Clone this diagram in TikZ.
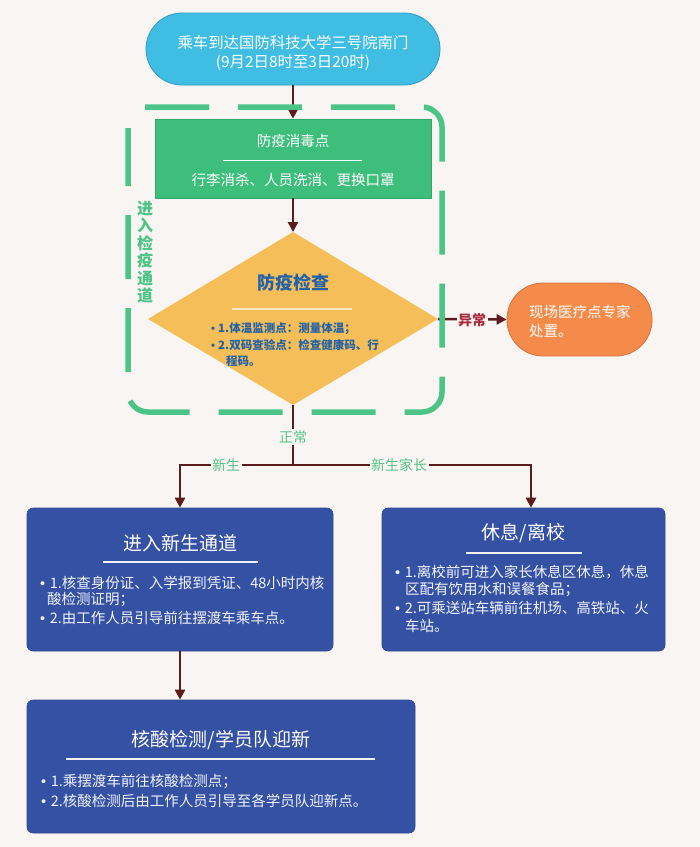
\documentclass[tikz,border=0pt]{standalone}
\usepackage{fontspec}
\setmainfont{Noto Sans CJK SC}
\newfontfamily\bulfont{Liberation Sans}
\usetikzlibrary{arrows.meta}
\definecolor{bgc}{HTML}{F9F5F2}
\definecolor{cyanF}{HTML}{40BDE2}
\definecolor{cyanD}{HTML}{2F9CC4}
\definecolor{greenF}{HTML}{3DBE7B}
\definecolor{greenD}{HTML}{34A96B}
\definecolor{dashG}{HTML}{4DC487}
\definecolor{diaF}{HTML}{F5BE58}
\definecolor{diaT}{HTML}{2262A8}
\definecolor{diaL}{HTML}{FBE8C6}
\definecolor{orF}{HTML}{F58B4B}
\definecolor{orD}{HTML}{D9703A}
\definecolor{arrC}{HTML}{5A1C1C}
\definecolor{redT}{HTML}{A82A3D}
\definecolor{lblG}{HTML}{56C28C}
\definecolor{blueF}{HTML}{3551A4}
\definecolor{blueD}{HTML}{2E4790}
\definecolor{paleW}{HTML}{F2F4FA}
\newcommand{\bul}{{\bulfont •}\hspace{4.5pt}}
\tikzset{
  arrowline/.style={draw=arrC, line width=2.5pt, -{Triangle[length=10pt,width=10pt]}},
  plainline/.style={draw=arrC, line width=2.5pt},
  pilltext/.style={text=white, inner sep=0pt, font=\fontsize{15.4}{18}\selectfont},
  titletext/.style={text=white, inner sep=0pt, font=\fontsize{19}{22}\selectfont},
  bodytext/.style={text=paleW, inner sep=0pt, anchor=west, font=\fontsize{14.5}{17}\selectfont},
  diatext/.style={text=diaT, inner sep=0pt, anchor=west, font=\fontsize{11.5}{13}\selectfont\bfseries},
  glabel/.style={text=lblG, fill=bgc, inner sep=1.5pt, font=\fontsize{14}{16}\selectfont},
  bluebox/.style={draw=blueD, fill=blueF, rounded corners=6pt, line width=0.6pt},
  sepline/.style={draw=paleW, line width=1.1pt},
}
\begin{document}
\begin{tikzpicture}[x=1pt,y=-1pt]
\fill[bgc] (0,0) rectangle (700,847);
\useasboundingbox (0,0) rectangle (700,847);

% start pill
\node[draw=cyanD, fill=cyanF, line width=0.8pt, rounded corners=36pt, minimum width=294pt, minimum height=72pt] (start) at (293,49) {};
\node[pilltext] (s1) at (293,43) {乘车到达国防科技大学三号院南门};
\node[pilltext] (s2) at (293,63) {(9月2日8时至3日20时)};

% disinfection box
\node[draw=greenD, fill=greenF, line width=0.6pt, minimum width=276pt, minimum height=79pt] (dis) at (293,158.5) {};
\node[pilltext, font=\fontsize{14.5}{17}\selectfont] (d1) at (293,141) {防疫消毒点};
\draw[draw=white, line width=1pt] (223,160) -- (362,160);
\node[pilltext, font=\fontsize{14.5}{17}\selectfont] (d2) at (293,180) {行李消杀、人员洗消、更换口罩};

% diamond
\coordinate (dT) at (293,232);
\coordinate (dR) at (438,319);
\coordinate (dB) at (293,405);
\coordinate (dL) at (148,319);
\fill[diaF] (dT) -- (dR) -- (dB) -- (dL) -- cycle;
\node[text=diaT, inner sep=0pt, font=\fontsize{18}{20}\selectfont\bfseries] (ct) at (293,283) {防疫检查};
\draw[draw=diaL, line width=1.2pt] (232,309) -- (352,309);
\node[diatext] (c1) at (211,329) {{\bulfont •}\hspace{3pt}1.体温监测点：测量体温；};
\node[diatext] (c2) at (211,345) {{\bulfont •}\hspace{3pt}2.双码查验点：检查健康码、行};
\node[diatext] (c3) at (226,361) {程码。};

\draw[arrowline] (start.south) -- (dis.north);
\draw[arrowline] (dis.south) -- (dT);

% medical pill
\node[draw=orD, fill=orF, line width=0.8pt, rounded corners=36pt, minimum width=145pt, minimum height=73pt] (med) at (579.5,319.5) {};
\node[pilltext, anchor=west, font=\fontsize{14.5}{17}\selectfont] (m1) at (529,312) {现场医疗点专家};
\node[pilltext, anchor=west, font=\fontsize{14.5}{17}\selectfont] (m2) at (529,331) {处置。};
\draw[arrowline] (dR) -- (med.west);
\node[glabel, text=redT, font=\fontsize{14}{16}\selectfont\bfseries] (ab) at (472,320) {异常};

% dashed frame
\draw[draw=dashG, line width=5.5pt, rounded corners=20pt, dash pattern=on 64pt off 29pt]
  (145,107) -- (442,107) -- (442,412) -- (128,412) -- (128,128);
\node[text=dashG, inner sep=0pt, align=center, font=\fontsize{16}{17.5}\selectfont\bfseries] (vl) at (145,252) {进\\入\\检\\疫\\通\\道};

% blue boxes
\node[bluebox, minimum width=306pt, minimum height=143pt] (newb) at (180,579.5) {};
\node[bluebox, minimum width=283pt, minimum height=143pt] (rest) at (523.5,579.5) {};
\node[bluebox, minimum width=388pt, minimum height=133pt] (nat) at (221,766.5) {};

% split
\coordinate (split) at (293,465);
\draw[plainline] (dB) -- (split);
\draw[arrowline] (split) -| (newb.north);
\draw[arrowline] (split) -| ([xshift=7.5pt]rest.north);
\node[glabel] (ok) at (293,437) {正常};
\node[glabel] (ln) at (226,465) {新生};
\node[glabel] (lp) at (399,465) {新生家长};

% left box text
\node[titletext] (nt) at (180,543) {进入新生通道};
\draw[sepline] (103,562) -- (258,562);
\node[bodytext] (n1) at (40,583) {\bul 1.核查身份证、入学报到凭证、48小时内核};
\node[bodytext] (n2) at (47,600) {酸检测证明；};
\node[bodytext] (n3) at (40,618) {\bul 2.由工作人员引导前往摆渡车乘车点。};

% right box text
\node[titletext] (rt) at (523.5,533) {休息/离校};
\draw[sepline] (466,553) -- (582,553);
\node[bodytext] (r1) at (395,572) {\bul 1.离校前可进入家长休息区休息，休息};
\node[bodytext] (r2) at (405,590) {区配有饮用水和误餐食品；};
\node[bodytext] (r3) at (395,608) {\bul 2.可乘送站车辆前往机场、高铁站、火};
\node[bodytext] (r4) at (405,626) {车站。};

% bottom box
\draw[arrowline] (newb.south) -- (newb.south |- nat.north);
\node[titletext] (bt) at (221,740) {核酸检测/学员队迎新};
\draw[sepline] (66,759) -- (375,759);
\node[bodytext] (b1) at (41,782) {\bul 1.乘摆渡车前往核酸检测点；};
\node[bodytext] (b2) at (41,801) {\bul 2.核酸检测后由工作人员引导至各学员队迎新点。};
\end{tikzpicture}
\end{document}
